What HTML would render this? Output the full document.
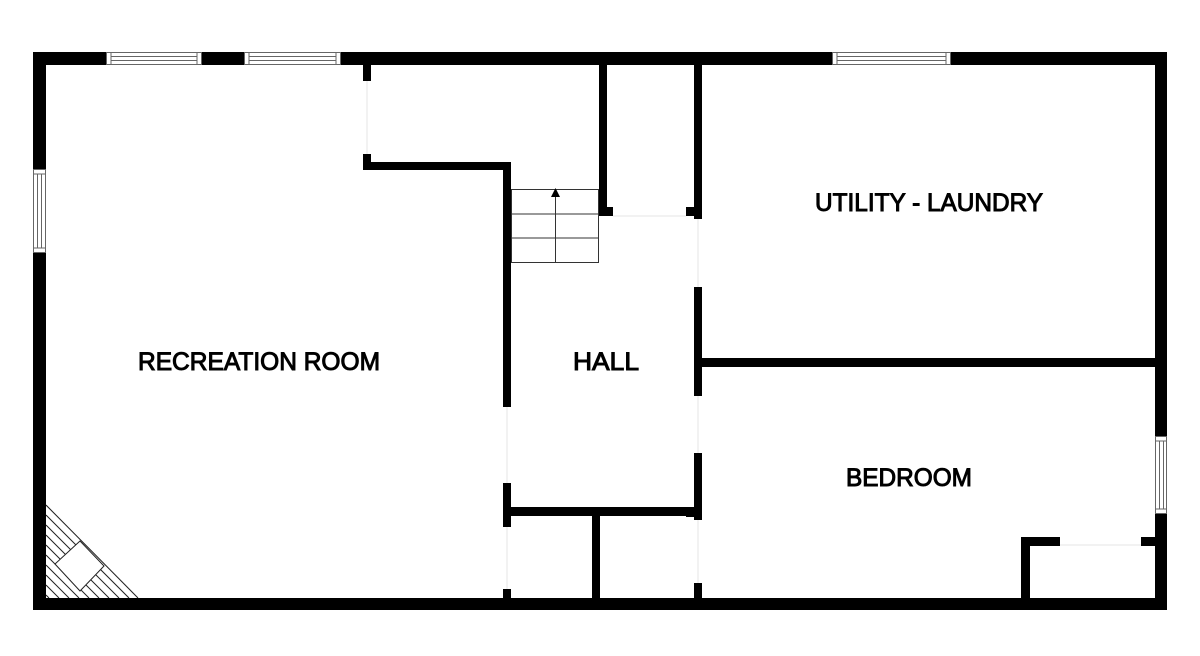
<!DOCTYPE html>
<html><head><meta charset="utf-8"><style>html,body{margin:0;padding:0;background:#fff}svg{display:block}</style></head>
<body>
<svg width="1200" height="656" viewBox="0 0 1200 656" xmlns="http://www.w3.org/2000/svg">
<rect width="1200" height="656" fill="#fff"/>
<defs><clipPath id="tri"><polygon points="46,505 46,598 138,598"/></clipPath></defs>
<g clip-path="url(#tri)" stroke="#222" stroke-width="1" fill="none">
<line x1="46" y1="505" x2="139" y2="598"/>
<line x1="46" y1="515" x2="129" y2="598"/>
<line x1="46" y1="525" x2="119" y2="598"/>
<line x1="46" y1="535" x2="109" y2="598"/>
<line x1="46" y1="545" x2="99" y2="598"/>
<line x1="46" y1="555" x2="89" y2="598"/>
<line x1="46" y1="565" x2="79" y2="598"/>
<line x1="46" y1="575" x2="69" y2="598"/>
<line x1="46" y1="585" x2="59" y2="598"/>
<line x1="46" y1="595" x2="49" y2="598"/>
</g>
<polygon points="80,541 55,564 80,591 104,566" fill="#fff" stroke="#222" stroke-width="1"/>
<line x1="46" y1="505" x2="138" y2="598" stroke="#222" stroke-width="1"/>
<g fill="#000">
<rect x="33" y="52" width="1134" height="13"/>
<rect x="33" y="598" width="1134" height="12"/>
<rect x="33" y="52" width="13" height="558"/>
<rect x="1155" y="52" width="12" height="558"/>
<rect x="363" y="65" width="8" height="16"/>
<rect x="363" y="154" width="8" height="16"/>
<rect x="363" y="162" width="148" height="8"/>
<rect x="503" y="162" width="8" height="245"/>
<rect x="503" y="483" width="8" height="44"/>
<rect x="503" y="589" width="8" height="9"/>
<rect x="503" y="507" width="199" height="9"/>
<rect x="592" y="516" width="8" height="82"/>
<rect x="599" y="65" width="8" height="151"/>
<rect x="599" y="207" width="14" height="9"/>
<rect x="694" y="65" width="8" height="154"/>
<rect x="686" y="207" width="16" height="9"/>
<rect x="694" y="287" width="8" height="109"/>
<rect x="694" y="453" width="8" height="67"/>
<rect x="694" y="583" width="8" height="15"/>
<rect x="694" y="358" width="461" height="9"/>
<rect x="686" y="508" width="16" height="9"/>
<rect x="1021" y="537" width="9" height="61"/>
<rect x="1021" y="537" width="39" height="9"/>
<rect x="1141" y="537" width="14" height="9"/>
</g>
<g stroke="#e6e6e6" stroke-width="1">
<line x1="613" y1="216" x2="686" y2="216"/>
<line x1="1060" y1="545" x2="1141" y2="545"/>
<line x1="367" y1="81" x2="367" y2="154"/>
<line x1="507" y1="407" x2="507" y2="483"/>
<line x1="507" y1="527" x2="507" y2="589"/>
<line x1="698" y1="219" x2="698" y2="287"/>
<line x1="698" y1="396" x2="698" y2="453"/>
<line x1="698" y1="520" x2="698" y2="583"/>
</g>
<g fill="#fff" stroke="#666" stroke-width="1">
<rect x="106.5" y="52.5" width="95" height="12"/>
<rect x="244.5" y="52.5" width="96" height="12"/>
<rect x="832.5" y="52.5" width="118" height="12"/>
<rect x="33.5" y="169.5" width="12" height="83"/>
<rect x="1155.5" y="436.5" width="11" height="77"/>
</g>
<g stroke="#666" stroke-width="1">
<line x1="111" y1="56.5" x2="197" y2="56.5"/><line x1="111" y1="60.5" x2="197" y2="60.5"/>
<line x1="111" y1="53" x2="111" y2="64"/><line x1="197" y1="53" x2="197" y2="64"/>
<line x1="249" y1="56.5" x2="336" y2="56.5"/><line x1="249" y1="60.5" x2="336" y2="60.5"/>
<line x1="249" y1="53" x2="249" y2="64"/><line x1="336" y1="53" x2="336" y2="64"/>
<line x1="837" y1="56.5" x2="946" y2="56.5"/><line x1="837" y1="60.5" x2="946" y2="60.5"/>
<line x1="837" y1="53" x2="837" y2="64"/><line x1="946" y1="53" x2="946" y2="64"/>
<line x1="37.5" y1="174" x2="37.5" y2="248"/><line x1="41.5" y1="174" x2="41.5" y2="248"/>
<line x1="34" y1="174" x2="45" y2="174"/><line x1="34" y1="248" x2="45" y2="248"/>
<line x1="1159.5" y1="441" x2="1159.5" y2="509"/><line x1="1163.5" y1="441" x2="1163.5" y2="509"/>
<line x1="1156" y1="441" x2="1166" y2="441"/><line x1="1156" y1="509" x2="1166" y2="509"/>
</g>
<g stroke="#333" stroke-width="1" fill="none">
<rect x="511.5" y="189.5" width="87" height="73"/>
<line x1="511" y1="214" x2="599" y2="214"/>
<line x1="511" y1="238" x2="599" y2="238"/>
<line x1="555.5" y1="196" x2="555.5" y2="262"/>
</g>
<polygon points="555.5,188 551,197 560,197" fill="#000"/>
<g font-family="Liberation Sans, Arial, sans-serif" font-size="25" fill="#000" stroke="#000" stroke-width="1" text-anchor="middle">
<text x="259" y="370" textLength="242" lengthAdjust="spacingAndGlyphs">RECREATION ROOM</text>
<text x="606" y="370" textLength="66" lengthAdjust="spacingAndGlyphs">HALL</text>
<text x="929" y="211" textLength="228" lengthAdjust="spacingAndGlyphs">UTILITY - LAUNDRY</text>
<text x="909" y="486" textLength="126" lengthAdjust="spacingAndGlyphs">BEDROOM</text>
</g>
</svg>
</body></html>
